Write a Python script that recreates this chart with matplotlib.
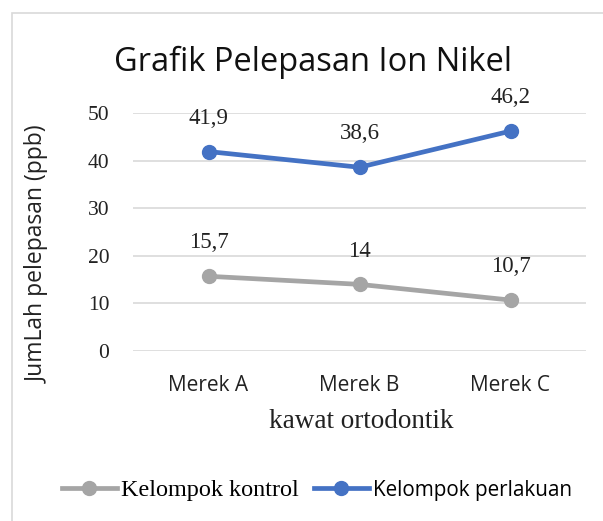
import matplotlib
matplotlib.use("Agg")
import matplotlib.pyplot as plt
from matplotlib.patches import Rectangle

categories = ["Merek A", "Merek B", "Merek C"]
kontrol = [15.7, 14.0, 10.7]
perlakuan = [41.9, 38.6, 46.2]
kontrol_labels = ["15,7", "14", "10,7"]
perlakuan_labels = ["41,9", "38,6", "46,2"]
yticks = [0, 10, 20, 30, 40, 50]

W, H = 603, 521
fig = plt.figure(figsize=(W / 100, H / 100), dpi=100)
fig.patch.set_facecolor("white")

# outer chart border
fig.patches.append(Rectangle((12 / W, -0.1), 1.2, 1 - 13 / H + 0.1, transform=fig.transFigure,
                             fill=False, edgecolor="#d9d9d9", linewidth=1.2))

ax = fig.add_axes([133 / W, 1 - 351 / H, (586 - 133) / W, (351 - 113) / H])
x = list(range(len(categories)))
gray = "#a5a5a5"
blue = "#4472c4"
l1, = ax.plot(x, kontrol, color=gray, lw=3.4, marker="o", ms=10, label="Kelompok kontrol", zorder=3)
l2, = ax.plot(x, perlakuan, color=blue, lw=3.4, marker="o", ms=10, label="Kelompok perlakuan", zorder=3)

serif = "Liberation Serif"
sans = "Open Sans"
for xi, v, t in zip(x, kontrol, kontrol_labels):
    ax.annotate(t, (xi, v), xytext=(0, 24), textcoords="offset points", ha="center", va="center",
                fontsize=16.5, family=serif, color="#222222")
for xi, v, t in zip(x, perlakuan, perlakuan_labels):
    ax.annotate(t, (xi, v), xytext=(0, 24), textcoords="offset points", ha="center", va="center",
                fontsize=16.5, family=serif, color="#222222")

ax.set_xlim(-0.5, 2.5)
ax.set_ylim(0, 50)
ax.set_yticks(yticks)
ax.set_yticklabels([str(v) for v in yticks], family=serif, fontsize=15.5, color="#222222")
ax.set_xticks(x)
ax.set_xticklabels(categories, family=sans, fontsize=15, color="#222222")
ax.tick_params(length=0)
ax.tick_params(axis="y", pad=17)
ax.tick_params(axis="x", pad=17)
ax.grid(axis="y", color="#d9d9d9", lw=1.2)
ax.set_axisbelow(True)
for s in ax.spines.values():
    s.set_visible(False)

fig.text(361 / W, 1 - 422 / H, "kawat ortodontik", ha="center", va="center",
         family=serif, fontsize=19.5, color="#222222")
fig.text(38 / W, 1 - 254 / H, "JumLah pelepasan (ppb)", ha="center", va="center", rotation=90,
         family=sans, fontsize=16.5, color="#222222")

fig.text(313 / W, 1 - 62 / H, "Grafik Pelepasan Ion Nikel", ha="center", va="center",
         family=sans, fontsize=23.5, color="#111111")

fs_leg = 17.4
leg = fig.legend(handles=[l1, l2], loc="center", bbox_to_anchor=(317 / W, 1 - 490 / H), ncol=2,
                 frameon=False, handlelength=39.6 / fs_leg, columnspacing=0.6, handletextpad=0.2,
                 prop={"family": serif, "size": fs_leg})
leg.get_texts()[1].set_family(sans)
leg.get_texts()[1].set_fontsize(14.9)

fig.savefig("out.png", dpi=100)
